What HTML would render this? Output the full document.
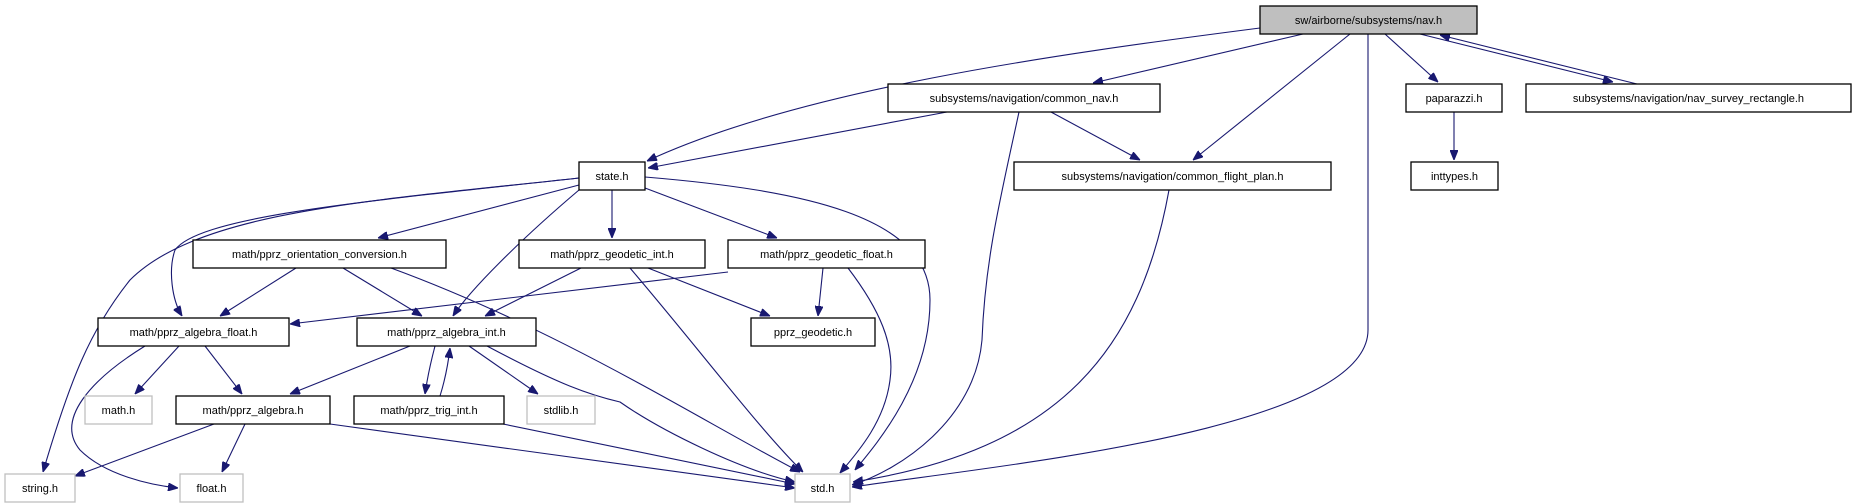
<!DOCTYPE html>
<html><head><meta charset="utf-8"><style>
html,body{margin:0;padding:0;background:#fff;}
svg{display:block;}
text{font-family:"Liberation Sans",sans-serif;font-size:11px;fill:#000;}
.n rect{fill:#fff;stroke:#000;stroke-width:1.3;}
.g rect{fill:#fff;stroke:#bfbfbf;stroke-width:1.3;}
.e path{fill:none;stroke:#191970;stroke-width:1.1;}
</style></head><body>
<svg width="1852" height="504" viewBox="0 0 1852 504" xmlns="http://www.w3.org/2000/svg">
<defs><marker id="a" viewBox="0 0 10 8" refX="10" refY="4" markerWidth="10" markerHeight="8" markerUnits="userSpaceOnUse" orient="auto"><path d="M0,0 L10,4 L0,8 z" fill="#191970" stroke="#191970"/></marker></defs>
<g class="e" marker-end="url(#a)">
<path d="M1260,28 C1050,55 800,90 647,161"/>
<path d="M1303,34 L1093,83"/>
<path d="M1350,34 L1193,160"/>
<path d="M1368,34 L1368,330 C1368,430 1000,465 852,487"/>
<path d="M1385,34 L1438,82"/>
<path d="M1420,34 L1613,82"/>
<path d="M1637,84 L1440,35"/>
<path d="M947,112 L648,168"/>
<path d="M1051,112 L1140,160"/>
<path d="M1019,112 C1000,200 985,260 982,340 C975,420 900,470 852,485"/>
<path d="M1169,190 C1140,350 1060,450 853,482"/>
<path d="M1454,112 L1454,160"/>
<path d="M579,178 C380,200 200,210 130,280 C90,330 70,380 43,472"/>
<path d="M579,178 C380,200 200,215 175,250 C168,270 172,300 182,316"/>
<path d="M579,185 L378,238"/>
<path d="M579,190 C520,240 470,290 453,316"/>
<path d="M612,190 L612,238"/>
<path d="M645,188 L777,238"/>
<path d="M645,177 C800,190 930,215 930,300 C930,380 880,440 855,470"/>
<path d="M296,268 L220,316"/>
<path d="M343,268 L422,316"/>
<path d="M391,268 C560,330 700,420 800,472"/>
<path d="M581,268 L485,316"/>
<path d="M648,268 L770,316"/>
<path d="M630,268 C700,350 760,430 803,472"/>
<path d="M728,272 L290,324"/>
<path d="M823,268 L818,316"/>
<path d="M848,268 C880,310 895,345 890,380 C885,420 860,450 840,473"/>
<path d="M179,346 L135,394"/>
<path d="M205,346 L242,394"/>
<path d="M145,346 C90,380 55,420 80,450 C105,475 150,485 178,488"/>
<path d="M410,346 L290,394"/>
<path d="M435,346 C430,365 427,380 425,394"/>
<path d="M440,396 C445,380 448,365 450,348"/>
<path d="M469,346 L538,394"/>
<path d="M487,346 C560,385 590,395 620,402 C660,430 740,470 795,482"/>
<path d="M214,424 L75,476"/>
<path d="M245,424 L222,472"/>
<path d="M330,424 L795,488"/>
<path d="M503,424 L795,484"/>
</g>
<g class="n">
<rect x="1260" y="6" width="217" height="28" style="fill:#bfbfbf"/><text x="1368.5" y="24" text-anchor="middle">sw/airborne/subsystems/nav.h</text>
<rect x="888" y="84" width="272" height="28"/><text x="1024" y="102" text-anchor="middle">subsystems/navigation/common_nav.h</text>
<rect x="1406" y="84" width="96" height="28"/><text x="1454" y="102" text-anchor="middle">paparazzi.h</text>
<rect x="1526" y="84" width="325" height="28"/><text x="1688.5" y="102" text-anchor="middle">subsystems/navigation/nav_survey_rectangle.h</text>
<rect x="579" y="162" width="66" height="28"/><text x="612" y="180" text-anchor="middle">state.h</text>
<rect x="1014" y="162" width="317" height="28"/><text x="1172.5" y="180" text-anchor="middle">subsystems/navigation/common_flight_plan.h</text>
<rect x="1411" y="162" width="87" height="28"/><text x="1454.5" y="180" text-anchor="middle">inttypes.h</text>
<rect x="193" y="240" width="253" height="28"/><text x="319.5" y="258" text-anchor="middle">math/pprz_orientation_conversion.h</text>
<rect x="519" y="240" width="186" height="28"/><text x="612" y="258" text-anchor="middle">math/pprz_geodetic_int.h</text>
<rect x="728" y="240" width="197" height="28"/><text x="826.5" y="258" text-anchor="middle">math/pprz_geodetic_float.h</text>
<rect x="98" y="318" width="191" height="28"/><text x="193.5" y="336" text-anchor="middle">math/pprz_algebra_float.h</text>
<rect x="357" y="318" width="179" height="28"/><text x="446.5" y="336" text-anchor="middle">math/pprz_algebra_int.h</text>
<rect x="751" y="318" width="124" height="28"/><text x="813" y="336" text-anchor="middle">pprz_geodetic.h</text>
<rect x="176" y="396" width="154" height="28"/><text x="253" y="414" text-anchor="middle">math/pprz_algebra.h</text>
<rect x="354" y="396" width="150" height="28"/><text x="429" y="414" text-anchor="middle">math/pprz_trig_int.h</text>
</g>
<g class="g">
<rect x="85" y="396" width="67" height="28"/><text x="118.5" y="414" text-anchor="middle">math.h</text>
<rect x="527" y="396" width="68" height="28"/><text x="561" y="414" text-anchor="middle">stdlib.h</text>
<rect x="5" y="474" width="70" height="28"/><text x="40" y="492" text-anchor="middle">string.h</text>
<rect x="180" y="474" width="63" height="28"/><text x="211.5" y="492" text-anchor="middle">float.h</text>
<rect x="795" y="474" width="55" height="28"/><text x="822.5" y="492" text-anchor="middle">std.h</text>
</g>
</svg>
</body></html>
